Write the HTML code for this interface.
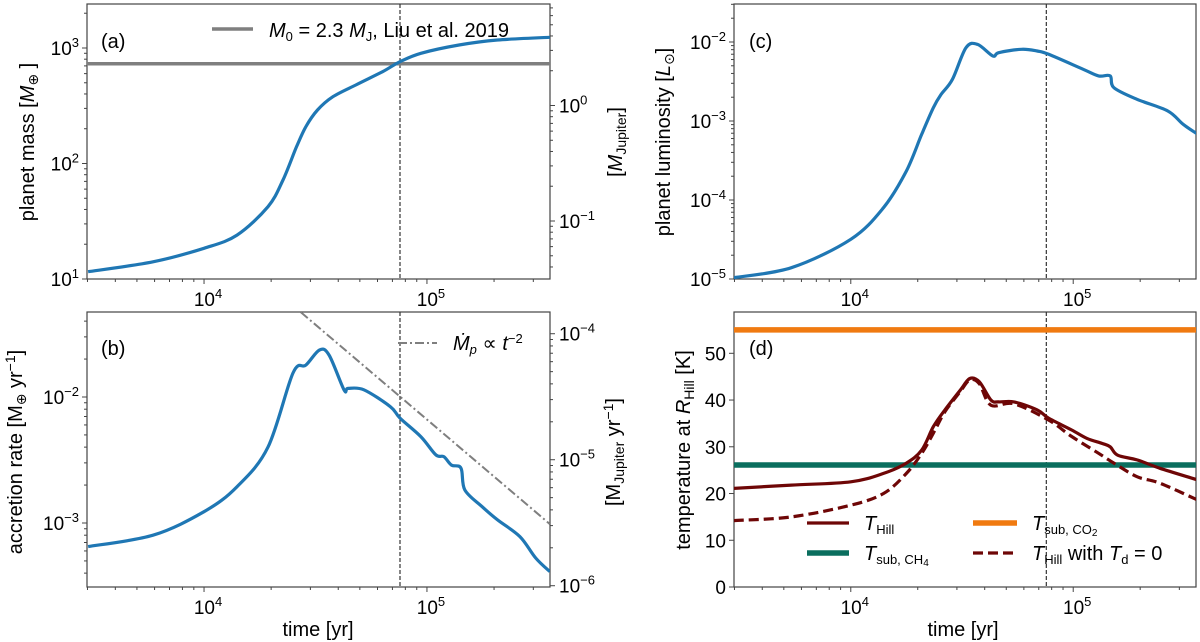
<!DOCTYPE html>
<html><head><meta charset="utf-8"><style>
html,body{margin:0;padding:0;background:#fff}
svg{display:block}
text{font-family:"Liberation Sans","DejaVu Sans",sans-serif;fill:#000}
</style></head><body>
<svg id="fig" width="1200" height="642" viewBox="0 0 1200 642" xmlns="http://www.w3.org/2000/svg"></svg>
<script>
// ---- data (time in yr) ----
const massT = [3020,5900,10000,14060,19360,22600,26000,28640,32280,37840,47970,63240,75700,93970,139300,207000,356000];
const massV = [11.56,14.1,18.45,24.0,42.3,71.9,139.6,208.5,290.4,378.4,478.6,623.7,760.3,899.5,1062,1172,1239];
const accT = [3020,5900,10000,14060,19360,25060,28640,32960,36390,42460,44260,52120,68550,75700,93970,109650,119100,128800,142200,147900,176600,207000,261200,307600,356000];
const accV = [6.5e-4,8.0e-4,1.23e-3,1.94e-3,4.0e-3,0.0155,0.0179,0.0236,0.0215,0.0114,0.0117,0.0114,0.00838,0.0068,0.00484,0.00347,0.00336,0.00288,0.00272,0.00183,0.00135,0.00106,7.8e-4,5.27e-4,4.11e-4];
const fitT = [27200,356000];
const fitV = [0.047,9.8e-4];
const lumT = [2980,5410,10000,14030,17780,20840,23500,25470,28640,32960,37150,43550,46240,58610,68870,77620,110900,130000,146600,152400,193600,266100,311900,363100];
const lumV = [1.04e-5,1.39e-5,3.18e-5,8.0e-5,2.33e-4,6.79e-4,1.47e-3,2.17e-3,3.36e-3,8.47e-3,9.33e-3,6.65e-3,7.33e-3,8.09e-3,7.69e-3,6.98e-3,4.51e-3,3.72e-3,3.72e-3,2.64e-3,1.88e-3,1.34e-3,9.08e-4,6.79e-4];
const thT = [2980,5410,10000,14030,17780,20840,23500,26490,31050,34280,37840,42660,46240,54200,68870,77620,98400,115300,135200,146600,158500,193600,245500,363100];
const thV = [21.1,21.8,22.5,24.3,26.5,29.3,34.3,37.9,42.1,44.6,43.9,40.0,39.6,39.6,37.9,36.1,33.6,31.8,30.7,30.0,28.2,27.2,25.4,22.9];
const tdT = [2980,5410,10000,14030,17780,20840,23500,26490,31050,34280,37840,42660,54200,77620,98400,130000,152400,193600,245500,363100];
const tdV = [14.2,15.0,17.5,20.0,24.3,28.6,32.9,37.5,41.8,44.3,43.5,38.9,39.2,35.7,32.2,28.6,26.5,23.6,22.2,18.6];
const tSubCO2 = 55;
const tSubCH4 = 26.1;
const tMark = 75700;
const MJ = 317.8;

const NS = "http://www.w3.org/2000/svg";
const svg = document.getElementById('fig');
function el(tag, attrs, parent){
  const e = document.createElementNS(NS, tag);
  for (const k in attrs) e.setAttribute(k, attrs[k]);
  (parent||svg).appendChild(e);
  return e;
}
function logScale(lo, hi, p0, p1){ return v => p0 + (Math.log10(v)-lo)/(hi-lo)*(p1-p0); }
function linScale(lo, hi, p0, p1){ return v => p0 + (v-lo)/(hi-lo)*(p1-p0); }

const XL = [3.475, 5.552];
const TICK = 19, EXP = 13;
function makePanel(name, x0, x1, y0, y1){
  const g = el('g', {});
  
  
  return {g, x0, x1, y0, y1, sx: logScale(XL[0], XL[1], x0, x1)};
}
function frame(P){
  const r = el('rect', {x:P.x0, y:P.y0, width:P.x1-P.x0, height:P.y1-P.y0, fill:'none', stroke:'#444', 'stroke-width':1.2}, P.g);
  
  
}
function xAxis(P){
  const gA = el('g', {}, P.g);
  
  
  for (let d=3; d<=5; d++){
    for (let m=1; m<=9; m++){
      const v = m*Math.pow(10,d);
      const lv = Math.log10(v);
      if (lv < XL[0] || lv > XL[1]) continue;
      const x = P.sx(v);
      el('line', {x1:x, x2:x, y1:P.y1, y2:P.y1+(m===1?5:3), stroke:'#444', 'stroke-width':1}, gA);
      if (m===1){
        const t = el('text', {x:x+4, y:P.y1+27, 'font-size':TICK, 'text-anchor':'middle'}, gA);
        
        
        const a = el('tspan', {}, t); a.textContent = '10';
        const b = el('tspan', {dy:-8, 'font-size':EXP}, t); b.textContent = String(d);
      }
    }
  }
}
function yLogAxis(P, lo, hi, side){
  const sy = logScale(lo, hi, P.y1, P.y0);
  const gA = el('g', {}, P.g);
  
  
  const xa = side==='left'?P.x0:P.x1, dir = side==='left'?-1:1;
  for (let d=Math.floor(lo)-1; d<=Math.ceil(hi); d++){
    for (let m=1; m<=9; m++){
      const lv = Math.log10(m)+d;
      if (lv < lo-1e-3 || lv > hi+1e-3) continue;
      const y = sy(Math.pow(10,lv));
      el('line', {x1:xa, x2:xa+dir*(m===1?5:3), y1:y, y2:y, stroke:'#444', 'stroke-width':1}, gA);
      if (m===1){
        const tx = side==='left'? xa-8 : xa+9;
        const t = el('text', {x:tx, y:y+7, 'font-size':TICK, 'text-anchor': side==='left'?'end':'start'}, gA);
        
        
        const a = el('tspan', {}, t); a.textContent = '10';
        const b = el('tspan', {dy:-8, 'font-size':EXP}, t); b.textContent = (d<0?'\u2212'+(-d):String(d));
      }
    }
  }
  return sy;
}
function smooth(pts){
  let d = 'M'+pts[0][0].toFixed(1)+','+pts[0][1].toFixed(1);
  for (let i=0;i<pts.length-1;i++){
    const p0 = pts[Math.max(0,i-1)], p1 = pts[i], p2 = pts[i+1], p3 = pts[Math.min(pts.length-1,i+2)];
    const c1x = p1[0]+(p2[0]-p0[0])/6, c1y = p1[1]+(p2[1]-p0[1])/6;
    const c2x = p2[0]-(p3[0]-p1[0])/6, c2y = p2[1]-(p3[1]-p1[1])/6;
    d += 'C'+c1x.toFixed(1)+','+c1y.toFixed(1)+' '+c2x.toFixed(1)+','+c2y.toFixed(1)+' '+p2[0].toFixed(1)+','+p2[1].toFixed(1);
  }
  return d;
}
function pathFrom(sx, sy, T, V){
  const pts = T.map((t,i)=>[sx(t), sy(V[i])]);
  return smooth(pts);
}
function clip(P, id){
  const cp = el('clipPath', {id:id}, P.g);
  el('rect', {x:P.x0, y:P.y0, width:P.x1-P.x0, height:P.y1-P.y0}, cp);
  return 'url(#'+id+')';
}
function vmark(P){
  const x = P.sx(tMark);
  const l = el('line', {x1:x, x2:x, y1:P.y0, y2:P.y1, stroke:'#333', 'stroke-width':1.2, 'stroke-dasharray':'4,2'}, P.g);
  
  
}
function rotLabel(x, y, html, name){
  const t = el('text', {x:0, y:0, 'font-size':20, 'text-anchor':'middle', transform:'translate('+x+','+y+') rotate(-90)'});
  
  
  t.innerHTML = html;
  return t;
}
function plainText(x, y, s, size, name, anchor){
  const t = el('text', {x:x, y:y, 'font-size':size, 'text-anchor':anchor||'start'});
  
  
  t.innerHTML = s;
  return t;
}

// ---- Panel (a) ----
const A = makePanel('panel-a-planet-mass', 87, 550, 4, 279);
const ayLo = 1, ayHi = 1+275/115.5;
frame(A); xAxis(A);
const syA = yLogAxis(A, ayLo, ayHi, 'left');
yLogAxis(A, ayLo-Math.log10(MJ), ayHi-Math.log10(MJ), 'right');
const cA = clip(A, 'ca');
vmark(A);
let p = el('line', {x1:A.x0, x2:A.x1, y1:syA(2.3*MJ), y2:syA(2.3*MJ), stroke:'#7f7f7f', 'stroke-width':3.5, 'clip-path':cA}, A.g);
 
p = el('path', {d:pathFrom(A.sx, syA, massT, massV), fill:'none', stroke:'#1f77b4', 'stroke-width':3.2, 'clip-path':cA}, A.g);
 
plainText(101, 48, '(a)', 20, 'panel-label-a');
p = el('line', {x1:212, x2:253, y1:29, y2:29, stroke:'#7f7f7f', 'stroke-width':3.5});
 
plainText(269, 37, '<tspan font-style="italic">M</tspan><tspan font-size="13" dy="4">0</tspan><tspan dy="-4"> = 2.3 </tspan><tspan font-style="italic">M</tspan><tspan font-size="13" dy="4">J</tspan><tspan dy="-4">, Liu et al. 2019</tspan>', 20, 'legend-entry-liu');
rotLabel(34, 142, 'planet mass [<tspan font-style="italic">M</tspan><tspan font-size="14" dy="4">\u2295</tspan><tspan dy="-4"> ]</tspan>', 'y-axis-title-a');
rotLabel(622, 142, '[<tspan font-style="italic">M</tspan><tspan font-size="14" dy="4">Jupiter</tspan><tspan dy="-4">]</tspan>', 'y-axis-title-a-right');

// ---- Panel (b) ----
const B = makePanel('panel-b-accretion-rate', 87, 550, 312, 587);
const byLo = -3.508, byHi = -3.508+275/126;
frame(B); xAxis(B);
const syB = yLogAxis(B, byLo, byHi, 'left');
yLogAxis(B, byLo-Math.log10(MJ), byHi-Math.log10(MJ), 'right');
const cB = clip(B, 'cb');
vmark(B);
let fd = ''; for (let i=0;i<fitT.length;i++) fd += (i?'L':'M')+B.sx(fitT[i]).toFixed(1)+','+syB(fitV[i]).toFixed(1);
p = el('path', {d:fd, fill:'none', stroke:'#7f7f7f', 'stroke-width':2, 'stroke-dasharray':'9,3,2,3', 'clip-path':cB}, B.g);
 
p = el('path', {d:pathFrom(B.sx, syB, accT, accV), fill:'none', stroke:'#1f77b4', 'stroke-width':3.2, 'stroke-linejoin':'round', 'clip-path':cB}, B.g);
 
plainText(101, 355, '(b)', 20, 'panel-label-b');
p = el('line', {x1:398, x2:437, y1:343, y2:343, stroke:'#7f7f7f', 'stroke-width':2, 'stroke-dasharray':'9,3,2,3'});
 
plainText(453, 350, '<tspan font-style="italic">\u1E40</tspan><tspan font-size="13" dy="4" font-style="italic">p</tspan><tspan dy="-4"> \u221D </tspan><tspan font-style="italic">t</tspan><tspan font-size="13" dy="-7">\u22122</tspan>', 20, 'legend-entry-fit');
rotLabel(22, 452, 'accretion rate [M<tspan font-size="14" dy="4">\u2295</tspan><tspan dy="-4">  yr</tspan><tspan font-size="14" dy="-7">\u22121</tspan><tspan dy="7">]</tspan>', 'y-axis-title-b');
rotLabel(620, 452, '[M<tspan font-size="14" dy="4">Jupiter</tspan><tspan dy="-4"> yr</tspan><tspan font-size="14" dy="-7">\u22121</tspan><tspan dy="7">]</tspan>', 'y-axis-title-b-right');
plainText(318, 636, 'time [yr]', 20, 'x-axis-title-b', 'middle');

// ---- Panel (c) ----
const C = makePanel('panel-c-luminosity', 734, 1196, 4, 279);
const cyLo = -5, cyHi = -5+275/79;
frame(C); xAxis(C);
const syC = yLogAxis(C, cyLo, cyHi, 'left');
const cC = clip(C, 'cc');
vmark(C);
p = el('path', {d:pathFrom(C.sx, syC, lumT, lumV), fill:'none', stroke:'#1f77b4', 'stroke-width':3.2, 'stroke-linejoin':'round', 'clip-path':cC}, C.g);
 
plainText(749, 48, '(c)', 20, 'panel-label-c');
rotLabel(670, 142, 'planet luminosity [<tspan font-style="italic">L</tspan><tspan font-size="14" dy="4">\u2299</tspan><tspan dy="-4">]</tspan>', 'y-axis-title-c');

// ---- Panel (d) ----
const D = makePanel('panel-d-temperature', 734, 1196, 312, 587);
frame(D); xAxis(D);
const syD = linScale(0, 275/4.674, D.y1, D.y0);
const gDy = el('g', {}, D.g);
 
const dTicks = [0,10,20,30,40,50];
for (const v of dTicks){
  const y = syD(v);
  el('line', {x1:D.x0, x2:D.x0-5, y1:y, y2:y, stroke:'#444'}, gDy);
  const t = el('text', {x:D.x0-8, y:y+7, 'font-size':TICK, 'text-anchor':'end'}, gDy);
   
  t.textContent = v;
}
const cD = clip(D, 'cd');
vmark(D);
p = el('line', {x1:D.x0, x2:D.x1, y1:syD(tSubCO2), y2:syD(tSubCO2), stroke:'#f07a10', 'stroke-width':5.5, 'clip-path':cD}, D.g);
 
p = el('line', {x1:D.x0, x2:D.x1, y1:syD(tSubCH4), y2:syD(tSubCH4), stroke:'#0a6e5e', 'stroke-width':5.5, 'clip-path':cD}, D.g);
 
p = el('path', {d:pathFrom(D.sx, syD, tdT, tdV), fill:'none', stroke:'#6e0606', 'stroke-width':3.2, 'stroke-dasharray':'10,5', 'clip-path':cD}, D.g);
 
p = el('path', {d:pathFrom(D.sx, syD, thT, thV), fill:'none', stroke:'#6e0606', 'stroke-width':3.2, 'stroke-linejoin':'round', 'clip-path':cD}, D.g);
 
plainText(749, 355, '(d)', 20, 'panel-label-d');
p = el('line', {x1:807, x2:849, y1:523, y2:523, stroke:'#6e0606', 'stroke-width':3.2});
 
plainText(864, 530, '<tspan font-style="italic">T</tspan><tspan font-size="13" dy="4">Hill</tspan>', 20, 'legend-entry-thill');
p = el('line', {x1:807, x2:849, y1:553, y2:553, stroke:'#0a6e5e', 'stroke-width':5.5});
 
plainText(864, 560, '<tspan font-style="italic">T</tspan><tspan font-size="13" dy="4">sub, CH</tspan><tspan font-size="10" dy="2">4</tspan>', 20, 'legend-entry-ch4');
p = el('line', {x1:973, x2:1017, y1:523, y2:523, stroke:'#f07a10', 'stroke-width':5.5});
 
plainText(1032, 530, '<tspan font-style="italic">T</tspan><tspan font-size="13" dy="4">sub, CO</tspan><tspan font-size="10" dy="2">2</tspan>', 20, 'legend-entry-co2');
p = el('line', {x1:973, x2:1017, y1:553, y2:553, stroke:'#6e0606', 'stroke-width':3.2, 'stroke-dasharray':'10,5'});
 
plainText(1032, 560, '<tspan font-style="italic">T</tspan><tspan font-size="13" dy="4">Hill</tspan><tspan dy="-4"> with </tspan><tspan font-style="italic">T</tspan><tspan font-size="13" dy="4">d</tspan><tspan dy="-4"> = 0</tspan>', 20, 'legend-entry-td0');
rotLabel(690, 450, 'temperature at <tspan font-style="italic">R</tspan><tspan font-size="14" dy="4">Hill</tspan><tspan dy="-4"> [K]</tspan>', 'y-axis-title-d');
plainText(963, 636, 'time [yr]', 20, 'x-axis-title-d', 'middle');
</script>
</body></html>
